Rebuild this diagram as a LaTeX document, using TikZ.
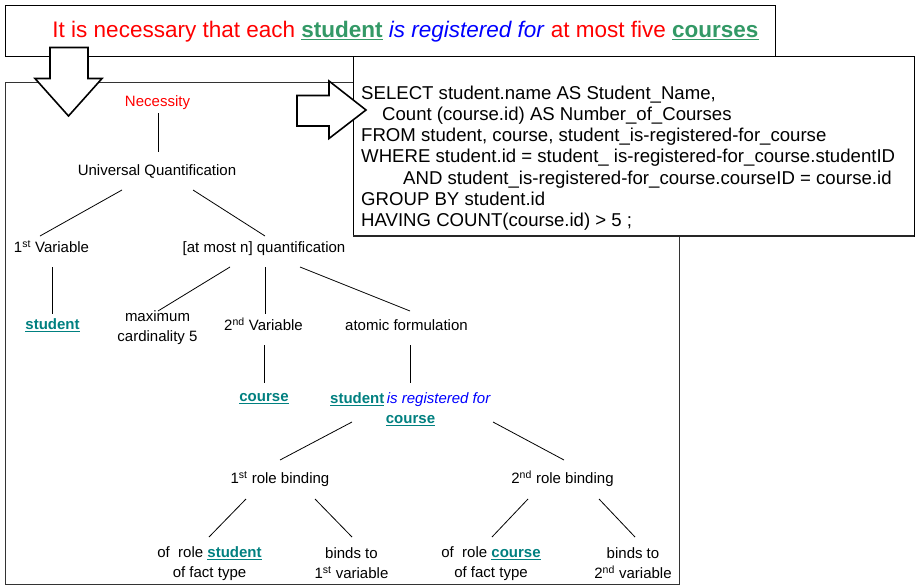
\documentclass[tikz,border=0pt]{standalone}
\usepackage{fontspec}
\setmainfont{Liberation Sans}
\usetikzlibrary{calc}

\definecolor{modalred}{RGB}{255,0,0}
\definecolor{verbblue}{RGB}{0,0,255}
\definecolor{termgreen}{RGB}{51,153,102}
\definecolor{termteal}{RGB}{0,128,128}

% noun concepts: bold, underlined, coloured
\newcommand{\term}[1]{\textcolor{termteal}{\textbf{\underline{#1}}}}
\newcommand{\titleterm}[1]{\textcolor{termgreen}{\textbf{\underline{#1}}}}
\newcommand{\verbphrase}[1]{\textcolor{verbblue}{\textit{#1}}}

\begin{document}
\begin{tikzpicture}[x=1pt,y=-1pt,
  lbl/.style={inner sep=0pt, font=\fontsize{15}{20}\selectfont, align=center},
  oneline/.style={lbl, text height=10.8pt, text depth=3.2pt},
  link/.style={line width=0.8pt},
  frame/.style={draw=black, line width=0.9pt, fill=white},
  blockarrow/.style={draw=black, line width=1.6pt, fill=white, line join=miter},
  sqlline/.style={anchor=base west, inner sep=0pt, font=\fontsize{18.6}{21.3}\selectfont}]
\useasboundingbox (0,0) rectangle (915,586);

% frames
\draw[frame, draw=black!80] (5,82) rectangle (679,584);
\draw[frame] (5,5) rectangle (775,56);
\draw[frame] (353,56.5) rectangle (914,236);
\draw[black!85, line width=1.4pt] (353,236) -- (914,236);

% block arrows
\draw[blockarrow] (50,47.5) -- (88,47.5) -- (88,78.5) -- (102,78.5) -- (68.5,116)
  -- (35,78.5) -- (50,78.5) -- cycle;
\draw[blockarrow] (297,95.5) -- (329,95.5) -- (329,81) -- (366,110) -- (329,138.5)
  -- (329,126) -- (297,126) -- cycle;

% rule statement
\node[anchor=base, inner sep=0pt, font=\fontsize{22.5}{26}\selectfont] (rule) at (405.5,37.5)
  {\textcolor{modalred}{It is necessary that each} \titleterm{student}
   \verbphrase{is registered for} \textcolor{modalred}{at most five} \titleterm{courses}};

% SQL translation
\node[sqlline] (sql1) at (361,99.0) {SELECT student.name AS Student\_Name,};
\node[sqlline] (sql2) at (382,120.3) {Count (course.id) AS Number\_of\_Courses};
\node[sqlline] (sql3) at (361,141.6) {FROM student, course, student\_is-registered-for\_course};
\node[sqlline] (sql4) at (361,162.9) {WHERE student.id = student\_ is-registered-for\_course.studentID};
\node[sqlline] (sql5) at (403,184.2) {AND student\_is-registered-for\_course.courseID = course.id};
\node[sqlline] (sql6) at (361,205.5) {GROUP BY student.id};
\node[sqlline] (sql7) at (361,226.8) {HAVING COUNT(course.id) > 5 ;};

% formulation tree
\node[oneline, text=modalred] (nec) at (157.5,102.5) {Necessity};
\node[oneline] (uq)   at (157,171.5) {Universal Quantification};
\node[oneline] (v1)   at (51.5,248.5) {1\textsuperscript{st} Variable};
\node[oneline] (amq)  at (264,248.5) {[at most n] quantification};
\node[oneline] (stu1) at (52.5,325.8) {\term{student}};
\node[lbl]     (maxc) at (157.5,327.5) {maximum\\cardinality 5};
\node[oneline] (v2)   at (263.5,327) {2\textsuperscript{nd} Variable};
\node[oneline] (af)   at (406.5,327) {atomic formulation};
\node[oneline] (crs1) at (264,397.5) {\term{course}};
\node[lbl]     (fact) at (410.5,409) {\term{student}\,\verbphrase{is registered for}\\\term{course}};
\node[oneline] (rb1)  at (280,479.5) {1\textsuperscript{st} role binding};
\node[oneline] (rb2)  at (562.5,479.5) {2\textsuperscript{nd} role binding};
\node[lbl]     (or1)  at (209.5,563.5) {of\ \ role \term{student}\\of fact type};
\node[lbl]     (bt1)  at (351.5,563.5) {binds to\\1\textsuperscript{st} variable};
\node[lbl]     (or2)  at (491,563.5) {of\ \ role \term{course}\\of fact type};
\node[lbl]     (bt2)  at (633,563.5) {binds to\\2\textsuperscript{nd} variable};

% tree edges
\draw[link] ($(nec)+(0.5,10.5)$)   -- ($(uq)+(1,-19.5)$);
\draw[link] ($(uq)+(-35,18.5)$)    -- ($(v1)+(-11.5,-12.5)$);
\draw[link] ($(uq)+(36,18.5)$)     -- ($(amq)+(1,-12.5)$);
\draw[link] ($(v1)+(0.5,18.5)$)    -- ($(stu1)+(-0.5,-11.5)$);
\draw[link] ($(amq)+(-34,18.5)$)   -- ($(maxc)+(0.5,-16.5)$);
\draw[link] ($(amq)+(1,18.5)$)     -- ($(v2)+(1.5,-13)$);
\draw[link] ($(amq)+(36,18.5)$)    -- ($(af)+(3.5,-16)$);
\draw[link] ($(v2)+(0.5,18)$)      -- ($(crs1)+(0,-14.5)$);
\draw[link] ($(af)+(3.5,18)$)      -- ($(fact)+(-0.5,-26)$);
\draw[link] ($(fact)+(-58.5,13)$)  -- ($(rb1)+(0,-19.5)$);
\draw[link] ($(fact)+(82.5,13)$)   -- ($(rb2)+(1.5,-19.5)$);
\draw[link] ($(rb1)+(-34,19.5)$)   -- ($(or1)+(-0.5,-26.5)$);
\draw[link] ($(rb1)+(35,19.5)$)    -- ($(bt1)+(0.5,-26.5)$);
\draw[link] ($(rb2)+(-34.5,19.5)$) -- ($(or2)+(1,-26.5)$);
\draw[link] ($(rb2)+(36.5,19.5)$)  -- ($(bt2)+(2,-26.5)$);
\end{tikzpicture}
\end{document}
